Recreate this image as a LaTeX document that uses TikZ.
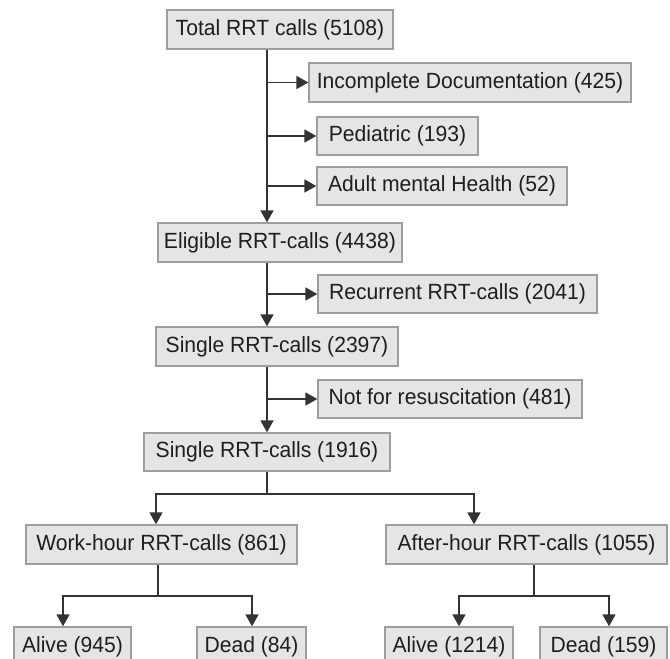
\documentclass[tikz,border=0pt]{standalone}
\usepackage{fontspec}
\setmainfont[FakeStretch=0.96]{Liberation Sans}
\usepackage{tikz}
\usetikzlibrary{arrows.meta}
\definecolor{fundo}{HTML}{E5E5E5}
\definecolor{borda}{HTML}{9E9E9E}
\definecolor{traco}{HTML}{333333}
\definecolor{texto}{HTML}{1E1E1E}

\begin{document}
\begin{tikzpicture}[x=1pt,y=1pt]
\tikzstyle{caixa}=[draw=borda, fill=fundo, line width=1.3pt, minimum height=39pt, inner sep=0pt, text=texto, font=\fontsize{22}{26}\selectfont]
\tikzstyle{linha}=[draw=traco, line width=1.6pt]
\tikzstyle{seta}=[linha, -{Triangle[length=12pt,width=13pt]}]
\clip (0,0) rectangle (670,-659);
 % tronco principal
 \node[caixa, minimum width=226pt] (total) at (280,-29.5) {Total RRT calls (5108)};
 \node[caixa, minimum width=322pt] (incompleta) at (470,-82.5) {Incomplete Documentation (425)};
 \node[caixa, minimum width=161pt, minimum height=38pt] (pediatrico) at (397.5,-136) {Pediatric (193)};
 \node[caixa, minimum width=250pt, minimum height=38pt] (mental) at (442,-186) {Adult mental Health (52)};
 \node[caixa, minimum width=244pt] (elegiveis) at (280,-242.5) {Eligible RRT-calls (4438)};
 \node[caixa, minimum width=279pt, minimum height=38pt] (recorrentes) at (457.5,-294) {Recurrent RRT-calls (2041)};
 \node[caixa, minimum width=242pt] (unicas) at (277,-346.5) {Single RRT-calls (2397)};
 \node[caixa, minimum width=264pt, minimum height=38pt] (naoressuscitar) at (450,-399) {Not for resuscitation (481)};
 \node[caixa, minimum width=246pt, minimum height=38pt] (unicasfinal) at (267,-452) {Single RRT-calls (1916)};
 % ramos
 \node[caixa, minimum width=271pt] (diurno) at (161.5,-544.5) {Work-hour RRT-calls (861)};
 \node[caixa, minimum width=281pt] (noturno) at (526.5,-544.5) {After-hour RRT-calls (1055)};
 \node[caixa, minimum width=117pt] (vivo1) at (72.5,-646.5) {Alive (945)};
 \node[caixa, minimum width=109pt] (morto1) at (251.5,-646.5) {Dead (84)};
 \node[caixa, minimum width=128pt] (vivo2) at (449,-646.5) {Alive (1214)};
 \node[caixa, minimum width=127pt] (morto2) at (603.5,-646.5) {Dead (159)};
 \coordinate (eixo) at (267,0);
 \coordinate (bif) at (267,-494);
 \coordinate (bifdiurno) at (158,-596);
 \coordinate (bifnoturno) at (534,-596);
 \coordinate (coldiurno) at (156,0);
 \coordinate (colnoturno) at (474,0);
 \coordinate (colvivo1) at (63,0);
 \coordinate (colmorto1) at (252,0);
 \coordinate (colvivo2) at (459,0);
 \coordinate (colmorto2) at (609,0);
 % setas
 \draw[seta] (eixo |- total.south) -- (eixo |- elegiveis.north);
 \draw[seta] (eixo |- incompleta.west) -- (incompleta.west);
 \draw[seta] (eixo |- pediatrico.west) -- (pediatrico.west);
 \draw[seta] (eixo |- mental.west) -- (mental.west);
 \draw[seta] (eixo |- elegiveis.south) -- (eixo |- unicas.north);
 \draw[seta] (eixo |- recorrentes.west) -- (recorrentes.west);
 \draw[seta] (eixo |- unicas.south) -- (eixo |- unicasfinal.north);
 \draw[seta] (eixo |- naoressuscitar.west) -- (naoressuscitar.west);
 \draw[linha] (unicasfinal.south) -- (bif);
 \draw[seta] (bif) -| (coldiurno |- diurno.north);
 \draw[seta] (bif) -| (colnoturno |- noturno.north);
 \draw[linha] (bifdiurno |- diurno.south) -- (bifdiurno);
 \draw[seta] (bifdiurno) -| (colvivo1 |- vivo1.north);
 \draw[seta] (bifdiurno) -| (colmorto1 |- morto1.north);
 \draw[linha] (bifnoturno |- noturno.south) -- (bifnoturno);
 \draw[seta] (bifnoturno) -| (colvivo2 |- vivo2.north);
 \draw[seta] (bifnoturno) -| (colmorto2 |- morto2.north);
\end{tikzpicture}
\end{document}
